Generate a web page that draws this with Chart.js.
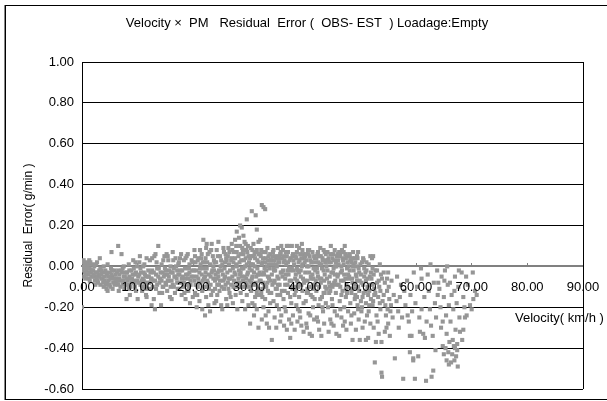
<!DOCTYPE html>
<html>
<head>
<meta charset="utf-8">
<script src="https://cdn.jsdelivr.net/npm/chart.js@4.4.0/dist/chart.umd.min.js"></script>
<style>
  body { margin: 0; background: #fff; }
  #wrap { position: relative; width: 607px; height: 401px; overflow: hidden; }
  #frame { position: absolute; left: 5px; top: 5px; width: 640px; height: 393px; border: 1px solid #000; box-shadow: -1px 0 0 #888; }
  #chart { position: absolute; left: 0; top: 0; }
</style>
</head>
<body>
<div id="wrap">
  <div id="frame"></div>
  <canvas id="chart" width="607" height="401"></canvas>
</div>
<script>
// Labels
const chartTitle = 'Velocity \u00d7  PM   Residual  Error (  OBS- EST  ) Loadage:Empty';
const xAxisTitle = 'Velocity( km/h )';
const yAxisTitle = 'Residual  Error( g/min )';

// Axis ticks
const velocityTicks = [0, 10, 20, 30, 40, 50, 60, 70, 80, 90];
const residualTicks = [-0.6, -0.4, -0.2, 0, 0.2, 0.4, 0.6, 0.8, 1.0];

// [velocity km/h, residual g/min]
const residualPoints = [
  // 0 - 10
  [0,0.0],[0,-0.20],[0.2,0.02],[0.3,-0.01],[0.5,-0.03],[0.6,0.01],[0.8,-0.02],[1.0,0.0],[1.1,-0.04],[1.3,0.03],
  [1.4,-0.01],[1.6,-0.03],[1.8,0.01],[1.9,-0.05],[0.4,-0.05],[1.2,-0.06],[1.7,-0.02],[0.9,0.02],
  [2.0,-0.02],[2.2,0.0],[2.3,-0.05],[2.5,-0.03],[2.7,0.02],[2.8,-0.07],[3.0,-0.04],[3.2,0.04],[3.3,-0.01],[3.5,-0.06],
  [3.6,-0.03],[3.8,-0.08],[3.9,0.0],[2.4,-0.09],[3.1,-0.02],[2.9,-0.05],
  [4.0,-0.05],[4.2,-0.02],[4.3,-0.09],[4.5,-0.04],[4.6,0.01],[4.8,-0.07],[5.0,-0.03],[5.1,-0.10],[5.3,0.07],[5.4,-0.05],
  [5.6,-0.08],[5.8,-0.02],[5.9,-0.06],[4.4,-0.11],[5.2,-0.01],
  [6.0,-0.04],[6.2,-0.08],[6.5,0.10],[6.5,-0.02],[6.7,-0.06],[6.9,-0.10],[7.1,0.06],[7.2,-0.03],[7.4,-0.07],[7.5,0.0],
  [7.7,-0.05],[7.9,-0.09],[8.0,-0.16],[6.6,-0.12],[7.3,-0.01],
  [8.1,-0.03],[8.2,-0.07],[8.4,0.01],[8.5,-0.05],[8.7,-0.10],[8.9,-0.02],[9.0,-0.06],[9.2,0.03],[9.4,-0.08],[9.5,-0.04],
  [9.7,-0.12],[9.9,0.0],[8.6,-0.14],[9.3,-0.01],[10.0,-0.16],
  [0.1,-0.02],[0.3,0.03],[0.5,0.0],[0.7,-0.04],[0.9,-0.01],[1.1,0.01],[1.3,-0.03],[1.5,0.02],[1.7,-0.05],[1.9,-0.02],[0.6,-0.06],[1.4,-0.07],
  [2.1,-0.04],[2.3,-0.07],[2.5,0.01],[2.7,-0.03],[2.9,-0.08],[3.1,-0.05],[3.3,-0.09],[3.5,-0.02],[3.7,-0.06],[3.9,-0.10],[2.6,-0.06],[3.4,-0.04],
  [4.1,-0.07],[4.3,-0.03],[4.5,-0.08],[4.7,-0.05],[4.9,-0.09],[5.1,-0.06],[5.3,-0.04],[5.5,-0.11],[5.7,-0.06],[5.9,-0.09],[4.6,-0.12],[5.4,-0.02],
  [6.1,-0.06],[6.3,-0.03],[6.5,-0.09],[6.7,-0.04],[6.9,-0.07],[7.1,-0.02],[7.3,-0.09],[7.5,-0.05],[7.7,-0.08],[7.9,-0.03],[6.4,-0.07],[7.6,-0.11],
  [8.1,-0.06],[8.3,-0.09],[8.5,-0.02],[8.7,-0.06],[8.9,-0.08],[9.1,-0.04],[9.3,-0.07],[9.5,-0.10],[9.7,-0.03],[9.9,-0.07],[8.4,-0.11],[9.6,0.02],
  // 10 - 20
  [10.1,-0.05],[10.3,0.02],[10.5,-0.09],[10.6,-0.03],[10.8,-0.12],[11.0,0.0],[11.1,-0.07],[11.3,-0.04],[11.5,-0.14],[11.6,0.04],
  [11.8,-0.08],[11.9,-0.02],[10.9,-0.06],[11.4,-0.10],[11.6,-0.15],
  [12.0,-0.05],[12.2,0.03],[12.3,-0.11],[12.5,-0.19],[12.6,-0.02],[12.8,-0.07],[13.0,0.05],[13.1,-0.21],[13.3,-0.04],[13.5,-0.09],
  [13.7,0.10],[13.8,-0.01],[13.9,-0.13],[12.9,-0.16],[13.4,0.02],[12.4,-0.06],
  [14.0,-0.06],[14.2,-0.19],[14.3,0.01],[14.5,-0.03],[14.6,-0.10],[14.8,0.05],[15.0,-0.08],[15.1,-0.02],[15.3,-0.12],[15.5,0.03],
  [15.6,-0.05],[15.8,-0.15],[15.9,0.0],[14.9,-0.04],[15.4,-0.07],[14.4,-0.13],[15.2,0.06],
  [16.0,-0.03],[16.3,0.07],[16.3,-0.09],[16.5,-0.01],[16.7,-0.13],[16.8,0.04],[17.0,-0.06],[17.2,-0.11],[17.3,0.01],[17.5,-0.04],
  [17.6,-0.08],[17.8,0.06],[17.9,-0.14],[16.6,-0.05],[17.4,0.02],[16.1,-0.16],[17.1,-0.02],
  [18.0,-0.02],[18.2,-0.10],[18.3,0.03],[18.5,-0.06],[18.6,-0.16],[18.8,0.05],[19.0,-0.04],[19.1,-0.12],[19.3,0.01],[19.5,-0.07],
  [19.0,0.06],[19.8,-0.02],[19.9,-0.15],[18.9,-0.09],[19.4,-0.18],[19.7,0.03],[18.4,-0.13],[19.2,-0.01],
  [10.1,-0.08],[10.3,-0.04],[10.5,-0.01],[10.7,-0.07],[10.9,-0.10],[11.1,-0.03],[11.3,-0.08],[11.5,-0.05],[11.7,-0.11],[11.9,-0.05],[10.4,0.05],[11.2,0.01],
  [12.1,-0.08],[12.3,-0.03],[12.5,-0.06],[12.7,-0.10],[12.9,-0.03],[13.1,-0.07],[13.3,-0.11],[13.5,-0.01],[13.7,-0.05],[13.9,-0.08],[12.6,0.04],[13.2,0.06],
  [14.1,-0.03],[14.3,-0.07],[14.5,-0.10],[14.7,-0.05],[14.9,-0.01],[15.1,-0.09],[15.3,-0.04],[15.5,-0.07],[15.7,-0.02],[15.9,-0.10],[14.6,0.03],[15.4,0.05],
  [16.1,-0.07],[16.3,-0.03],[16.5,-0.10],[16.7,-0.05],[16.9,0.0],[17.1,-0.08],[17.3,-0.04],[17.5,-0.11],[17.7,-0.02],[17.9,-0.06],[16.4,0.03],[17.6,0.04],
  [18.1,-0.05],[18.3,-0.08],[18.5,-0.01],[18.7,-0.04],[18.9,-0.12],[19.1,-0.06],[19.3,-0.03],[19.5,-0.09],[19.7,-0.05],[19.9,0.02],[18.6,0.04],[19.2,-0.10],
  // 20 - 28
  [20.0,-0.05],[20.2,0.08],[20.3,-0.13],[20.5,-0.02],[20.6,-0.20],[20.8,0.03],[21.0,-0.08],[21.1,-0.17],[21.3,0.01],[21.5,-0.04],
  [21.6,-0.21],[21.8,0.13],[21.9,-0.10],[20.9,-0.06],[21.4,0.04],[21.2,-0.01],[20.4,-0.09],[22.1,-0.24],[20.7,-0.14],[21.7,-0.07],
  [22.0,0.02],[22.4,0.11],[22.2,-0.03],[22.3,-0.15],[22.5,0.02],[22.6,-0.08],[22.8,-0.11],[23.0,-0.22],[23.1,-0.05],[23.3,0.11],
  [23.5,-0.12],[23.6,0.0],[23.8,-0.18],[23.9,-0.07],[22.9,0.07],[23.4,-0.02],[22.4,-0.10],[23.7,0.03],[22.7,-0.19],[23.2,-0.14],
  [24.0,-0.04],[24.2,0.08],[24.3,-0.14],[24.5,0.12],[24.6,-0.09],[24.8,0.05],[25.0,-0.19],[25.1,-0.02],[25.4,0.09],[25.5,-0.11],
  [25.6,-0.06],[25.8,0.06],[25.9,-0.16],[24.9,0.0],[25.4,-0.07],[24.4,-0.03],[25.7,0.02],[24.7,-0.12],[25.2,-0.21],[24.1,-0.17],
  [26.0,0.03],[26.2,-0.08],[26.3,0.09],[26.5,-0.13],[26.6,-0.02],[26.9,0.11],[27.0,-0.05],[27.1,-0.18],[27.3,0.07],[27.5,-0.10],
  [27.8,0.17],[27.8,0.0],[27.9,-0.21],[26.9,0.04],[27.4,-0.03],[26.4,-0.06],[27.7,0.10],[26.7,-0.15],[27.2,0.02],[27.5,0.13],
  [26.1,-0.19],[26.8,-0.09],[27.6,-0.14],
  [20.1,-0.02],[20.2,-0.07],[20.4,0.02],[20.6,-0.05],[20.8,-0.10],[21.0,0.04],[21.1,-0.03],[21.3,-0.08],[21.5,0.06],[21.6,-0.12],
  [21.8,-0.01],[21.9,-0.06],[20.5,-0.14],[21.2,0.08],[20.3,0.05],[21.7,0.02],
  [22.1,-0.05],[22.2,0.04],[22.4,-0.01],[22.6,0.06],[22.8,-0.04],[23.0,0.01],[23.1,-0.09],[23.3,-0.03],[23.5,0.05],[23.6,-0.06],
  [23.8,0.02],[23.9,-0.11],[22.5,-0.07],[23.2,0.08],[22.3,0.09],[23.7,-0.02],
  [24.1,0.02],[24.2,-0.06],[24.4,0.05],[24.6,-0.02],[24.8,-0.07],[25.0,0.03],[25.1,-0.10],[25.3,-0.04],[25.5,0.07],[25.6,-0.01],
  [25.8,-0.09],[25.9,0.04],[24.5,-0.05],[25.2,0.01],[24.3,-0.09],[25.7,-0.05],
  [26.1,-0.03],[26.2,0.05],[26.4,0.01],[26.6,-0.06],[26.8,0.03],[27.0,0.08],[27.1,-0.01],[27.3,-0.07],[27.5,0.04],[27.6,-0.04],
  [27.8,0.07],[27.9,-0.08],[26.5,0.07],[27.2,-0.10],[26.3,-0.11],[27.7,0.01],
  // 28 - 34
  [28.1,0.05],[28.2,-0.02],[28.3,-0.08],[28.4,0.10],[28.5,-0.13],[28.6,0.03],[28.7,-0.05],[28.8,-0.17],[28.9,0.08],[29.0,-0.01],
  [29.1,-0.10],[29.2,0.12],[29.3,-0.21],[29.4,0.04],[29.5,-0.06],[29.6,-0.14],[29.7,0.07],[29.8,-0.03],[29.9,-0.19],[28.2,0.14],
  [28.6,-0.10],[29.0,0.06],[29.4,-0.08],[29.8,0.10],[28.4,-0.04],[29.6,0.01],[28.4,0.20],[28.7,0.19],[29.0,0.15],[29.6,0.23],
  [28.1,-0.06],[28.3,0.02],[28.5,0.06],[28.7,-0.01],[28.9,-0.07],[29.1,0.03],[29.3,0.00],[29.5,0.08],[29.7,-0.04],[29.9,0.05],
  [28.2,-0.10],[29.2,-0.05],[28.8,0.09],[29.6,-0.09],[28.5,-0.03],[29.4,0.11],
  [30.0,0.02],[30.1,-0.07],[30.2,-0.28],[30.3,0.09],[30.4,-0.12],[30.5,-0.02],[30.6,-0.18],[30.7,0.05],[30.8,-0.09],[30.9,-0.24],
  [31.0,0.0],[31.1,-0.15],[31.2,0.07],[31.3,-0.05],[31.4,-0.21],[31.5,0.03],[31.6,-0.11],[31.7,-0.30],[31.8,0.06],[31.9,-0.03],
  [30.2,0.04],[30.6,-0.05],[31.0,-0.19],[31.4,0.08],[31.8,-0.14],[30.4,0.01],[31.2,-0.08],[30.8,0.11],
  [30.5,0.27],[31.2,0.25],[31.4,0.18],[31.7,0.12],[32.0,0.13],
  [30.1,-0.01],[30.3,0.05],[30.5,-0.06],[30.7,0.01],[30.9,-0.03],[31.1,0.04],[31.3,-0.09],[31.5,-0.01],[31.7,0.02],[31.9,-0.07],
  [30.4,-0.08],[31.0,0.06],[30.6,0.08],[31.6,-0.04],[30.0,-0.10],[31.4,-0.13],
  [32.0,-0.04],[32.1,0.05],[32.2,-0.13],[32.3,-0.26],[32.4,0.02],[32.5,-0.08],[32.6,-0.20],[32.7,0.07],[32.8,-0.01],[32.9,-0.16],
  [33.0,0.04],[33.1,-0.10],[33.2,-0.28],[33.3,0.09],[33.4,-0.05],[33.5,-0.22],[33.6,0.01],[33.7,-0.13],[33.8,0.06],[33.9,-0.07],
  [32.2,0.08],[32.6,-0.03],[33.0,-0.24],[33.4,0.03],[33.8,-0.18],[32.4,-0.11],[33.2,0.0],[33.6,-0.30],
  [32.3,0.30],[32.6,0.29],[32.9,0.28],
  [32.1,-0.07],[32.3,0.01],[32.5,0.04],[32.7,-0.04],[32.9,0.02],[33.1,-0.02],[33.3,-0.08],[33.5,0.05],[33.7,-0.01],[33.9,0.03],
  [32.4,-0.15],[33.0,0.07],[32.8,-0.09],[33.6,-0.06],[32.0,0.06],[33.4,-0.12],
  // 34 - 42
  [34.0,0.03],[34.1,-0.36],[34.2,-0.09],[34.3,0.07],[34.4,-0.17],[34.5,-0.02],[34.6,-0.25],[34.7,0.05],[34.8,-0.11],[34.9,-0.30],
  [35.0,0.0],[35.1,-0.14],[35.2,0.09],[35.3,-0.06],[35.4,-0.21],[35.5,0.04],[35.6,-0.27],[35.7,-0.03],[35.8,0.10],[35.9,-0.12],
  [34.2,0.05],[34.6,-0.07],[35.0,-0.19],[35.4,0.02],[35.8,-0.24],[34.4,-0.01],[35.2,-0.09],[35.6,0.06],[34.8,0.01],
  [34.1,-0.04],[34.3,0.01],[34.5,-0.08],[34.7,-0.02],[34.9,0.04],[35.1,-0.05],[35.3,0.02],[35.5,-0.09],[35.7,0.07],[35.9,-0.03],
  [34.4,0.08],[35.0,-0.11],[34.6,0.03],[35.6,-0.14],[34.0,-0.13],[35.4,0.05],
  [36.0,-0.05],[36.1,0.08],[36.2,-0.16],[36.3,-0.29],[36.4,0.03],[36.5,-0.09],[36.6,-0.22],[36.8,0.10],[36.8,-0.31],[36.9,-0.02],
  [37.0,-0.13],[37.1,0.10],[37.2,-0.26],[37.3,-0.07],[37.4,-0.35],[37.5,0.04],[37.6,-0.18],[37.7,0.10],[37.8,-0.11],[37.9,-0.24],
  [36.2,0.02],[36.6,-0.04],[37.0,0.07],[37.4,-0.15],[37.8,0.05],[36.4,-0.20],[37.2,-0.01],[37.6,-0.28],[36.8,0.05],
  [36.1,-0.02],[36.3,0.05],[36.5,-0.06],[36.7,0.01],[36.9,-0.09],[37.1,-0.04],[37.3,0.03],[37.5,-0.10],[37.7,-0.01],[37.9,0.06],
  [36.4,-0.12],[37.0,0.02],[36.6,0.07],[37.6,-0.07],[36.0,0.04],[37.4,-0.02],
  [38.0,0.03],[38.1,-0.10],[38.2,-0.31],[38.6,0.10],[38.4,-0.04],[38.5,-0.19],[38.6,0.07],[38.7,-0.27],[38.8,-0.08],[38.9,0.02],
  [39.0,-0.15],[39.1,-0.22],[39.2,0.06],[39.3,-0.02],[39.4,-0.29],[39.5,0.11],[39.6,-0.12],[39.7,-0.06],[39.8,-0.32],[39.9,0.04],
  [38.2,-0.14],[38.6,-0.01],[39.0,0.09],[39.4,-0.09],[39.8,-0.18],[38.4,0.05],[39.2,-0.25],[39.6,0.01],[38.8,-0.21],
  [38.1,0.01],[38.3,-0.06],[38.5,0.04],[38.7,-0.02],[38.9,-0.10],[39.1,0.03],[39.3,-0.05],[39.5,0.0],[39.7,0.06],[39.9,-0.08],
  [38.4,-0.12],[39.0,-0.03],[38.6,-0.07],[39.6,0.08],[38.0,-0.02],[39.4,0.04],
  [40.0,-0.07],[40.1,0.05],[40.2,-0.17],[40.3,-0.28],[40.4,0.0],[40.5,-0.11],[40.6,0.08],[40.7,-0.23],[40.8,-0.03],[40.9,-0.33],
  [41.0,0.03],[41.1,-0.14],[41.2,-0.06],[41.3,-0.34],[41.4,0.07],[41.5,-0.20],[41.6,-0.01],[41.7,-0.26],[41.8,0.04],[41.9,-0.09],
  [40.2,0.06],[40.6,-0.13],[41.0,-0.24],[41.4,-0.04],[41.8,-0.16],[40.4,-0.30],[41.2,0.02],[41.6,-0.11],[40.8,0.08],
  [40.1,-0.03],[40.3,0.03],[40.5,-0.07],[40.7,0.00],[40.9,0.05],[41.1,-0.05],[41.3,0.02],[41.5,-0.09],[41.7,0.05],[41.9,-0.02],
  [40.4,-0.13],[41.0,-0.10],[40.6,0.06],[41.6,-0.06],[40.0,0.02],[41.4,-0.15],
  // 42 - 50
  [42.0,0.02],[42.1,-0.12],[42.2,-0.25],[42.3,0.06],[42.4,-0.05],[42.5,-0.19],[42.6,-0.31],[42.7,0.01],[42.8,0.09],[42.9,-0.08],
  [43.0,-0.34],[43.1,-0.15],[43.2,0.04],[43.3,-0.22],[43.4,-0.02],[43.5,-0.28],[43.6,0.07],[43.7,-0.10],[43.8,-0.18],[43.9,0.0],
  [42.2,-0.01],[42.6,0.05],[43.0,-0.06],[43.4,-0.13],[43.8,0.06],[42.4,-0.27],[43.2,-0.20],[43.6,-0.04],[42.8,-0.16],
  [42.1,0.04],[42.3,-0.03],[42.5,0.02],[42.7,-0.06],[42.9,0.05],[43.1,-0.01],[43.3,0.03],[43.5,-0.07],[43.7,0.02],[43.9,-0.11],
  [42.4,0.07],[43.0,0.01],[42.6,-0.10],[43.6,-0.13],[42.0,-0.07],[43.4,0.08],
  [44.0,-0.06],[44.1,0.07],[44.2,-0.20],[44.3,-0.32],[44.4,0.02],[44.5,-0.10],[44.6,-0.26],[44.7,0.10],[44.8,-0.03],[44.9,-0.16],
  [45.0,0.04],[45.1,0.06],[45.2,-0.29],[45.3,-0.08],[45.4,-0.22],[45.5,0.0],[45.6,-0.13],[45.7,-0.33],[45.8,0.05],[45.9,-0.05],
  [44.2,0.03],[44.6,-0.12],[45.0,-0.19],[45.4,0.08],[45.8,-0.24],[44.4,-0.08],[45.2,-0.01],[45.6,0.02],[44.8,-0.28],
  [44.1,-0.02],[44.3,0.04],[44.5,-0.05],[44.7,0.02],[44.9,-0.09],[45.1,-0.03],[45.3,0.03],[45.5,-0.07],[45.7,0.00],[45.9,0.06],
  [44.4,-0.13],[45.0,-0.10],[44.6,0.06],[45.6,-0.09],[44.0,0.03],[45.4,-0.04],
  [46.0,0.03],[46.1,-0.09],[46.2,-0.34],[46.3,-0.17],[46.4,0.06],[46.5,-0.03],[46.6,-0.25],[46.7,0.08],[46.8,-0.12],[46.9,-0.29],
  [47.0,0.01],[47.1,-0.20],[47.2,0.10],[47.3,-0.06],[47.4,-0.15],[47.5,-0.31],[47.6,0.05],[47.7,-0.10],[47.8,-0.22],[47.9,0.0],
  [46.2,0.07],[46.6,0.0],[47.0,-0.07],[47.4,0.04],[47.8,-0.04],[46.4,-0.21],[47.2,-0.27],[47.6,-0.13],[46.8,0.04],
  [46.1,0.01],[46.3,0.05],[46.5,-0.07],[46.7,-0.02],[46.9,0.03],[47.1,-0.04],[47.3,0.06],[47.5,-0.09],[47.7,0.02],[47.9,-0.06],
  [46.4,-0.10],[47.0,0.07],[46.6,-0.14],[47.6,-0.01],[46.0,-0.04],[47.4,-0.11],
  [48.0,-0.05],[48.1,0.05],[48.2,-0.18],[48.3,-0.28],[48.4,0.02],[48.5,-0.11],[48.6,-0.36],[48.7,0.07],[48.8,-0.02],[48.9,-0.23],
  [49.0,0.04],[49.1,-0.14],[49.2,-0.31],[49.3,0.0],[49.4,-0.07],[49.5,-0.19],[49.6,0.07],[49.7,-0.26],[49.8,-0.03],[49.9,-0.36],
  [48.2,0.03],[48.6,-0.08],[49.0,-0.16],[49.4,0.05],[49.8,-0.12],[48.4,-0.24],[49.2,-0.04],[49.6,-0.21],[48.8,0.01],
  [48.1,-0.02],[48.3,0.03],[48.5,-0.06],[48.7,0.00],[48.9,-0.09],[49.1,0.02],[49.3,-0.05],[49.5,0.04],[49.7,-0.01],[49.9,-0.07],
  [48.4,-0.13],[49.0,-0.11],[48.6,0.04],[49.6,-0.10],[48.0,0.06],[49.4,-0.15],
  // 50 - 56
  [50.0,0.01],[50.2,-0.08],[50.3,-0.20],[50.5,0.04],[50.6,-0.13],[50.8,-0.27],[50.9,-0.03],[51.0,-0.36],[51.1,0.02],[51.3,-0.10],
  [51.4,-0.35],[51.5,-0.22],[51.7,-0.05],[51.8,0.05],[51.9,-0.16],[50.4,-0.30],[50.7,-0.01],[51.2,-0.24],[51.6,-0.12],[50.1,-0.17],
  [51.0,-0.07],[51.8,-0.28],
  [50.1,-0.04],[50.3,0.02],[50.5,-0.09],[50.7,-0.05],[50.9,-0.12],[51.1,-0.02],[51.3,-0.06],[51.5,0.01],[51.7,-0.09],[51.9,-0.03],
  [50.4,-0.15],[51.0,-0.18],[50.6,0.03],[51.6,-0.19],[50.2,-0.22],[51.4,-0.14],
  [52.0,-0.06],[52.1,0.04],[52.2,-0.19],[52.3,0.05],[52.4,-0.30],[52.5,-0.11],[52.6,-0.47],[52.7,-0.02],[52.8,-0.37],[52.9,-0.24],
  [53.0,-0.08],[53.2,-0.15],[53.3,-0.33],[53.5,0.01],[53.6,-0.21],[53.8,-0.37],[53.8,-0.52],[53.9,-0.54],[52.2,-0.01],[53.1,-0.27],
  [53.4,-0.10],[52.5,-0.14],[53.7,-0.04],
  [52.1,-0.09],[52.4,-0.04],[52.7,-0.13],[53.0,-0.02],[53.3,-0.07],[53.6,-0.12],[53.9,-0.06],[52.3,-0.17],[53.5,-0.18],
  [54.0,-0.17],[54.2,-0.03],[54.4,-0.32],[54.4,-0.08],[54.6,-0.24],[54.8,-0.12],[55.0,-0.03],[55.0,-0.28],[55.3,-0.34],[55.5,-0.19],
  [55.6,-0.07],[55.8,-0.25],[56.0,-0.14],[54.7,-0.30],[55.2,-0.16],[56.2,-0.45],
  [54.2,-0.14],[54.5,-0.19],[54.8,-0.06],[55.1,-0.10],[55.4,-0.22],[54.9,-0.21],
  // 56 - 64
  [56.5,-0.17],[56.6,-0.05],[56.8,-0.22],[57.1,-0.15],[57.3,-0.09],[57.5,-0.25],[57.7,-0.55],[57.9,-0.12],[56.9,-0.30],
  [58.1,-0.19],[58.4,-0.07],[58.7,-0.27],[58.9,-0.34],[58.9,-0.42],[59.2,-0.34],[59.5,-0.45],[59.5,-0.46],[59.8,-0.55],[59.0,-0.14],
  [59.3,-0.22],[59.6,-0.03],[59.9,-0.18],[58.5,-0.24],
  [60.2,-0.10],[60.4,-0.44],[60.7,-0.32],[61.0,-0.21],[61.3,-0.33],[61.6,-0.35],[61.8,-0.56],[61.0,-0.06],[61.5,-0.15],[60.6,-0.25],
  [61.9,-0.27],[60.9,-0.01],
  [62.1,-0.04],[62.3,-0.12],[62.5,-0.21],[62.7,-0.29],[62.8,-0.54],[63.1,-0.51],[63.2,-0.08],[63.4,-0.18],[63.6,-0.25],[63.8,-0.02],
  [64.0,-0.08],[63.0,-0.34],[62.6,0.01],[63.9,-0.14],[63.5,-0.41],
  // 64 - 71
  [64.2,-0.11],[64.4,-0.20],[64.6,-0.05],[64.8,-0.27],[65.0,-0.15],[65.2,-0.02],[65.4,-0.24],[65.5,-0.33],[65.7,-0.09],[65.9,-0.19],
  [64.8,-0.39],[65.0,-0.43],[65.3,-0.40],[65.5,-0.46],[65.8,-0.42],[65.9,-0.48],[64.5,-0.30],[65.6,0.0],[66.0,-0.37],[65.1,-0.07],
  [66.1,-0.08],[66.2,-0.27],[66.4,-0.14],[66.5,-0.43],[66.7,-0.21],[66.8,-0.39],[66.9,-0.46],[67.0,-0.05],[67.1,-0.31],[67.2,-0.44],
  [67.3,-0.18],[67.4,-0.41],[67.5,-0.49],[67.6,-0.10],[67.8,-0.25],[67.9,-0.32],[66.3,-0.47],[66.6,-0.36],[67.0,-0.40],[67.7,-0.02],
  [66.9,-0.12],[67.4,-0.38],
  [68.2,-0.03],[68.3,-0.36],[68.5,-0.31],[68.5,-0.15],[68.8,-0.25],[69.1,-0.24],[69.3,-0.09],[69.7,-0.19],[70.0,-0.21],[70.3,-0.16],
  [70.6,-0.12],[70.9,-0.14],[69.0,-0.05],[68.7,-0.20],[70.2,-0.03]
];

const tickFont = { family: "'Liberation Sans', Arial, sans-serif", size: 13 };
const yTitleFont = { family: "'Liberation Sans', Arial, sans-serif", size: 12 };

// Drop the label-overflow padding so the plot area keeps the layout padding
const noScalePadding = s => {
  s.paddingLeft = 0;
  s.paddingRight = 0;
  s.paddingTop = 0;
  s.paddingBottom = 0;
};

// Plot-area right edge plus the title and the velocity caption
const chartDecor = {
  id: 'chartDecor',
  beforeDatasetsDraw(chart) {
    const { ctx, chartArea: a } = chart;
    ctx.save();
    ctx.strokeStyle = '#000';
    ctx.lineWidth = 1;
    ctx.beginPath();
    ctx.moveTo(Math.round(a.right) + 0.5, a.top);
    ctx.lineTo(Math.round(a.right) + 0.5, a.bottom);
    ctx.stroke();
    ctx.restore();
  },
  afterDraw(chart) {
    const { ctx } = chart;
    ctx.save();
    ctx.fillStyle = '#000';
    ctx.font = `${tickFont.size}px ${tickFont.family}`;
    ctx.textBaseline = 'middle';
    ctx.textAlign = 'center';
    ctx.fillText(chartTitle, 307, 23);
    ctx.textAlign = 'left';
    ctx.fillText(xAxisTitle, 515, 318);
    ctx.restore();
  }
};

new Chart(document.getElementById('chart'), {
  type: 'scatter',
  data: {
    datasets: [{
      data: residualPoints.map(([v, r]) => ({ x: v, y: r })),
      backgroundColor: '#969696',
      borderWidth: 0,
      pointStyle: 'rect',
      pointRadius: 2.9,
      pointHoverRadius: 2.9
    }]
  },
  options: {
    responsive: false,
    animation: false,
    devicePixelRatio: 1,
    events: [],
    layout: { padding: { top: 62, right: 24, bottom: 12, left: 0 } },
    plugins: {
      legend: { display: false },
      tooltip: { enabled: false },
      title: { display: false }
    },
    scales: {
      x: {
        type: 'linear',
        min: 0,
        max: 90,
        position: { y: 0 },
        afterBuildTicks: s => { s.ticks = velocityTicks.map(value => ({ value })); },
        afterFit: noScalePadding,
        grid: { drawOnChartArea: false, drawTicks: true, tickLength: -4, color: '#808080' },
        border: { color: '#808080', width: 2 },
        // tick labels sit above the markers
        ticks: { z: 1, color: '#000', font: tickFont, padding: 17, maxRotation: 0, autoSkip: false, callback: v => v.toFixed(2) }
      },
      y: {
        min: -0.6,
        max: 1.0,
        afterBuildTicks: s => { s.ticks = residualTicks.map(value => ({ value })); },
        afterFit: s => { s.width = 82; noScalePadding(s); },
        grid: { color: '#000', drawTicks: false, lineWidth: 1 },
        border: { color: '#000' },
        ticks: { color: '#000', font: tickFont, padding: 8, callback: v => v.toFixed(2) },
        title: { display: true, text: yAxisTitle, color: '#000', font: yTitleFont, padding: { top: 21, bottom: 0 } }
      }
    }
  },
  plugins: [chartDecor]
});
</script>
</body>
</html>
